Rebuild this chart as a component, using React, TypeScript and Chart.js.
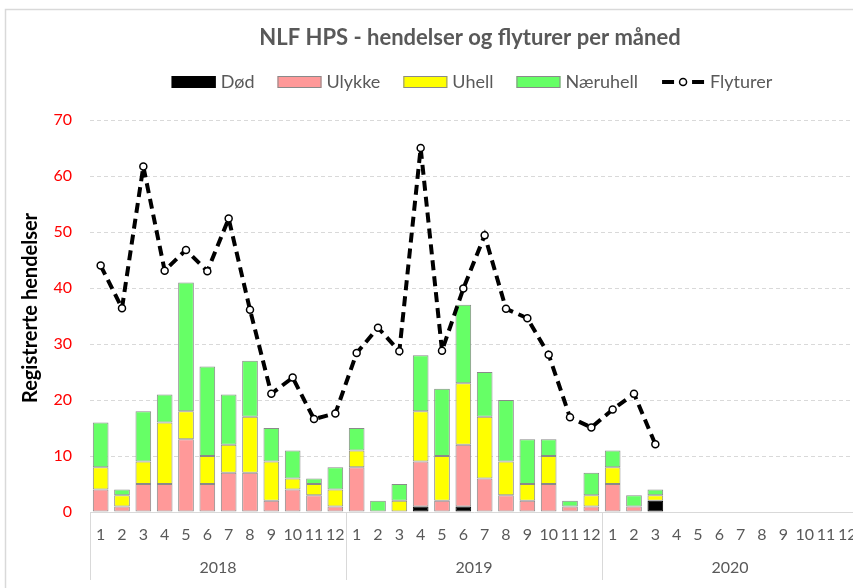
import React, { useEffect, useRef } from "react";
import { Chart, registerables } from "chart.js";

Chart.register(...registerables);

const TITLE = "NLF HPS - hendelser og flyturer per måned";
const Y_TITLE = "Registrerte hendelser";
const YEARS = ["2018", "2019", "2020"];
const MONTHS = ["1", "2", "3", "4", "5", "6", "7", "8", "9", "10", "11", "12"];
const LABELS = YEARS.flatMap(() => MONTHS);

const DOD = [
  null, null, null, null, null, null, null, null, null, null, null, null,
  null, null, null, 1, null, 1, null, null, null, null, null, null,
  null, null, 2, null, null, null, null, null, null, null, null, null,
];
const ULYKKE = [
  4, 1, 5, 5, 13, 5, 7, 7, 2, 4, 3, 1,
  8, null, null, 8, 2, 11, 6, 3, 2, 5, 1, 1,
  5, 1, null, null, null, null, null, null, null, null, null, null,
];
const UHELL = [
  4, 2, 4, 11, 5, 5, 5, 10, 7, 2, 2, 3,
  3, null, 2, 9, 8, 11, 11, 6, 3, 5, null, 2,
  3, null, 1, null, null, null, null, null, null, null, null, null,
];
const NARUHELL = [
  8, 1, 9, 5, 23, 16, 9, 10, 6, 5, 1, 4,
  4, 2, 3, 10, 12, 14, 8, 11, 8, 3, 1, 4,
  3, 2, 1, null, null, null, null, null, null, null, null, null,
];
const FLYTURER = [
  44, 36.4, 61.7, 43.1, 46.8, 43, 52.4, 36.1, 21.1, 24, 16.6, 17.6,
  28.4, 32.9, 28.7, 65, 28.8, 39.9, 49.4, 36.3, 34.6, 28.1, 16.9, 15.1,
  18.3, 21.1, 12.1, null, null, null, null, null, null, null, null, null,
];
const Y_TICKS_MAX = 70;
const Y_TICK_STEP = 10;

const FONT = "Lato";
const GREY_TEXT = "#595959";
const GRID = "#d9d9d9";
const BAR_BORDER = "#8a8a8a";

const LEGEND_ITEMS = [
  { text: "Død", fill: "#000000", stroke: "#000000", kind: "box" },
  { text: "Ulykke", fill: "#ff9999", stroke: BAR_BORDER, kind: "box" },
  { text: "Uhell", fill: "#ffff00", stroke: BAR_BORDER, kind: "box" },
  { text: "Næruhell", fill: "#66ff66", stroke: BAR_BORDER, kind: "box" },
  { text: "Flyturer", fill: "#ffffff", stroke: "#000000", kind: "line" },
];

const decorPlugin = {
  id: "decor",
  beforeDraw(chart: any) {
    const ctx = chart.ctx;
    ctx.save();
    ctx.fillStyle = "#ffffff";
    ctx.fillRect(0, 0, chart.width, chart.height);
    ctx.strokeStyle = GRID;
    ctx.lineWidth = 1.5;
    ctx.strokeRect(5.5, 9.5, chart.width + 50, chart.height + 50);
    ctx.restore();
  },
  afterDraw(chart: any) {
    const ctx = chart.ctx;
    const centerX = 470;
    ctx.save();
    // Title
    ctx.font = `bold 22px ${FONT}`;
    ctx.fillStyle = GREY_TEXT;
    ctx.textAlign = "center";
    ctx.textBaseline = "middle";
    ctx.fillText(TITLE, centerX, 38);

    // Y axis title
    ctx.save();
    ctx.translate(31, 308);
    ctx.rotate(-Math.PI / 2);
    ctx.font = `bold 20px ${FONT}`;
    ctx.fillStyle = "#000000";
    ctx.textAlign = "center";
    ctx.textBaseline = "middle";
    ctx.fillText(Y_TITLE, 0, 0);
    ctx.restore();

    // Legend
    ctx.font = `18px ${FONT}`;
    const boxW = 44;
    const boxH = 12;
    const gapText = 5;
    const gapItem = 23;
    const widths = LEGEND_ITEMS.map((it) => boxW + gapText + ctx.measureText(it.text).width);
    const total = widths.reduce((a, b) => a + b, 0) + gapItem * (LEGEND_ITEMS.length - 1);
    let x = 472 - total / 2;
    const cy = 82;
    LEGEND_ITEMS.forEach((it, i) => {
      if (it.kind === "box") {
        ctx.fillStyle = it.fill;
        ctx.fillRect(x, cy - boxH / 2, boxW, boxH);
        ctx.strokeStyle = it.stroke;
        ctx.lineWidth = 1;
        ctx.strokeRect(x + 0.5, cy - boxH / 2 + 0.5, boxW - 1, boxH - 1);
      } else {
        ctx.strokeStyle = "#000";
        ctx.lineWidth = 4;
        ctx.beginPath();
        ctx.moveTo(x + 1, cy);
        ctx.lineTo(x + 13, cy);
        ctx.moveTo(x + 31, cy);
        ctx.lineTo(x + 43, cy);
        ctx.stroke();
        ctx.beginPath();
        ctx.arc(x + 22, cy, 3.5, 0, Math.PI * 2);
        ctx.fillStyle = "#fff";
        ctx.fill();
        ctx.lineWidth = 1.5;
        ctx.stroke();
      }
      ctx.fillStyle = GREY_TEXT;
      ctx.textAlign = "left";
      ctx.textBaseline = "middle";
      ctx.fillText(it.text, x + boxW + gapText, cy);
      x += widths[i] + gapItem;
    });

    // Year group separators
    const xs = chart.scales.x;
    const half = (xs.getPixelForValue(1) - xs.getPixelForValue(0)) / 2;
    ctx.strokeStyle = GRID;
    ctx.lineWidth = 1;
    for (let g = 0; g <= YEARS.length; g++) {
      const px = Math.round(xs.getPixelForValue(g * MONTHS.length) - half) + 0.5;
      ctx.beginPath();
      ctx.moveTo(px, chart.chartArea.bottom);
      ctx.lineTo(px, 580);
      ctx.stroke();
    }
    ctx.restore();
  },
};

export default function App() {
  const ref = useRef<HTMLCanvasElement | null>(null);

  useEffect(() => {
    if (!ref.current) return;
    const barCommon = {
      type: "bar" as const,
      borderColor: BAR_BORDER,
      borderWidth: 1,
      borderSkipped: false,
      barPercentage: 0.735,
      categoryPercentage: 1,
      order: 1,
      stack: "events",
    };
    const chart = new Chart(ref.current, {
      type: "bar",
      data: {
        labels: LABELS,
        datasets: [
          { ...barCommon, label: "Død", data: DOD, backgroundColor: "#000000", borderColor: "#000000" },
          { ...barCommon, label: "Ulykke", data: ULYKKE, backgroundColor: "#ff9999" },
          { ...barCommon, label: "Uhell", data: UHELL, backgroundColor: "#ffff00" },
          { ...barCommon, label: "Næruhell", data: NARUHELL, backgroundColor: "#66ff66" },
          {
            type: "line" as const,
            label: "Flyturer",
            data: FLYTURER,
            stack: "flights",
            order: 0,
            borderColor: "#000000",
            borderWidth: 4,
            borderDash: [10, 6],
            tension: 0,
            spanGaps: false,
            pointRadius: 3.5,
            pointBorderWidth: 1.5,
            pointBackgroundColor: "#ffffff",
            pointBorderColor: "#000000",
            fill: false,
          } as any,
        ],
      },
      options: {
        responsive: false,
        animation: false,
        devicePixelRatio: 1,
        events: [],
        layout: { padding: { top: 120, left: 14, right: 12, bottom: 0 } },
        plugins: {
          legend: { display: false },
          title: { display: false },
          tooltip: { enabled: false },
        },
        scales: {
          x: {
            stacked: true,
            offset: true,
            weight: 0,
            grid: { display: false, drawTicks: false },
            border: { display: true, color: GRID, width: 1 },
            ticks: {
              color: GREY_TEXT,
              font: { family: FONT, size: 16 },
              padding: 13,
              autoSkip: false,
              maxRotation: 0,
            },
            afterFit: (s: any) => {
              s.height = 34;
            },
          },
          x2: {
            type: "category",
            labels: YEARS,
            position: "bottom",
            offset: true,
            weight: 1,
            grid: { display: false, drawTicks: false },
            border: { display: false },
            ticks: {
              color: GREY_TEXT,
              font: { family: FONT, size: 16 },
              padding: 12,
              autoSkip: false,
              maxRotation: 0,
            },
            afterFit: (s: any) => {
              s.height = 42;
            },
          },
          y: {
            stacked: true,
            min: 0,
            max: Y_TICKS_MAX,
            grid: { color: GRID, lineWidth: 1, drawTicks: false },
            border: { display: false, dash: [4, 3] },
            ticks: {
              stepSize: Y_TICK_STEP,
              color: "#ff0000",
              font: { family: FONT, size: 16 },
              padding: 18,
            },
            title: { display: false, text: Y_TITLE },
            afterFit: (s: any) => {
              s.width = 76;
            },
          },
        },
      } as any,
      plugins: [decorPlugin],
    });
    return () => chart.destroy();
  }, []);

  return (
    <div
      style={{
        position: "absolute",
        left: 0,
        top: 0,
        width: 853,
        height: 588,
        overflow: "hidden",
        background: "#fff",
      }}
    >
      <canvas ref={ref} width={870} height={588} style={{ display: "block" }} />
    </div>
  );
}
